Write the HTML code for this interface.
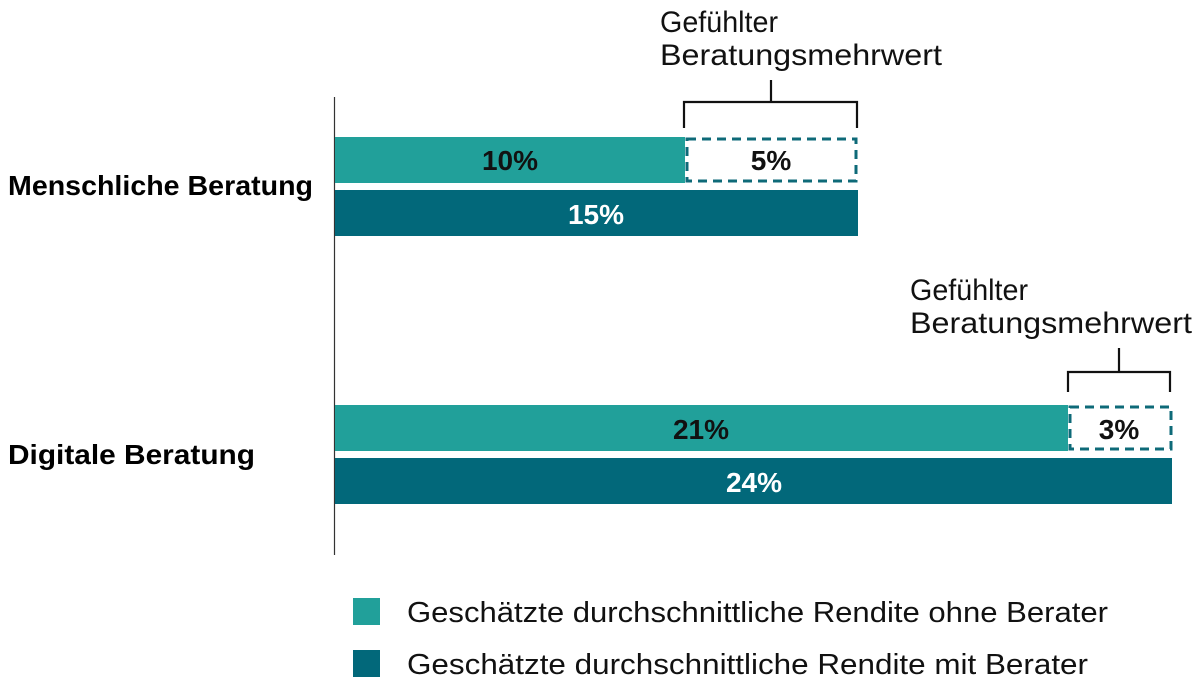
<!DOCTYPE html>
<html><head><meta charset="utf-8"><style>html,body{margin:0;padding:0;background:#fff}svg{display:block}</style></head>
<body>
<svg width="1200" height="688" viewBox="0 0 1200 688" xmlns="http://www.w3.org/2000/svg" font-family="Liberation Sans, sans-serif">
<rect width="1200" height="688" fill="#fff"/>
<line x1="334.5" y1="97" x2="334.5" y2="555" stroke="#333" stroke-width="1.2"/>
<rect x="335" y="137" width="350" height="46" fill="#21a09a"/>
<rect x="687" y="139" width="169" height="42" fill="none" stroke="#0e6a78" stroke-width="3" stroke-dasharray="9,6"/>
<rect x="335" y="190" width="523" height="46" fill="#02687a"/>
<path d="M684 128 V102 H857 V128 M771 102 V80" fill="none" stroke="#111" stroke-width="2.2"/>
<rect x="335" y="405" width="733" height="46" fill="#21a09a"/>
<rect x="1070" y="407" width="101" height="42" fill="none" stroke="#0e6a78" stroke-width="3" stroke-dasharray="9,6"/>
<rect x="335" y="458" width="837" height="46" fill="#02687a"/>
<path d="M1068 392 V372 H1170 V392 M1119 372 V348" fill="none" stroke="#111" stroke-width="2.2"/>
<g font-weight="bold" font-size="28" text-anchor="middle">
<text x="510" y="170" fill="#111">10%</text>
<text x="771" y="170" fill="#111">5%</text>
<text x="596" y="224" fill="#fff">15%</text>
<text x="701" y="439" fill="#111">21%</text>
<text x="1119" y="439" fill="#111">3%</text>
<text x="754" y="492" fill="#fff">24%</text>
</g>
<g font-weight="bold" font-size="28" fill="#000">
<text x="8" y="195" textLength="305" lengthAdjust="spacingAndGlyphs">Menschliche Beratung</text>
<text x="8" y="464" textLength="247" lengthAdjust="spacingAndGlyphs">Digitale Beratung</text>
</g>
<g font-size="30" fill="#111">
<text x="660" y="32" textLength="118" lengthAdjust="spacingAndGlyphs">Gefühlter</text>
<text x="660" y="65" textLength="282" lengthAdjust="spacingAndGlyphs">Beratungsmehrwert</text>
<text x="910" y="300" textLength="118" lengthAdjust="spacingAndGlyphs">Gefühlter</text>
<text x="910" y="333" textLength="282" lengthAdjust="spacingAndGlyphs">Beratungsmehrwert</text>
</g>
<rect x="353" y="598" width="27" height="27" fill="#21a09a"/>
<rect x="353" y="650" width="27" height="27" fill="#02687a"/>
<g font-size="29" fill="#111">
<text x="407" y="622" textLength="701" lengthAdjust="spacingAndGlyphs">Geschätzte durchschnittliche Rendite ohne Berater</text>
<text x="407" y="674" textLength="681" lengthAdjust="spacingAndGlyphs">Geschätzte durchschnittliche Rendite mit Berater</text>
</g>
</svg>
</body></html>
